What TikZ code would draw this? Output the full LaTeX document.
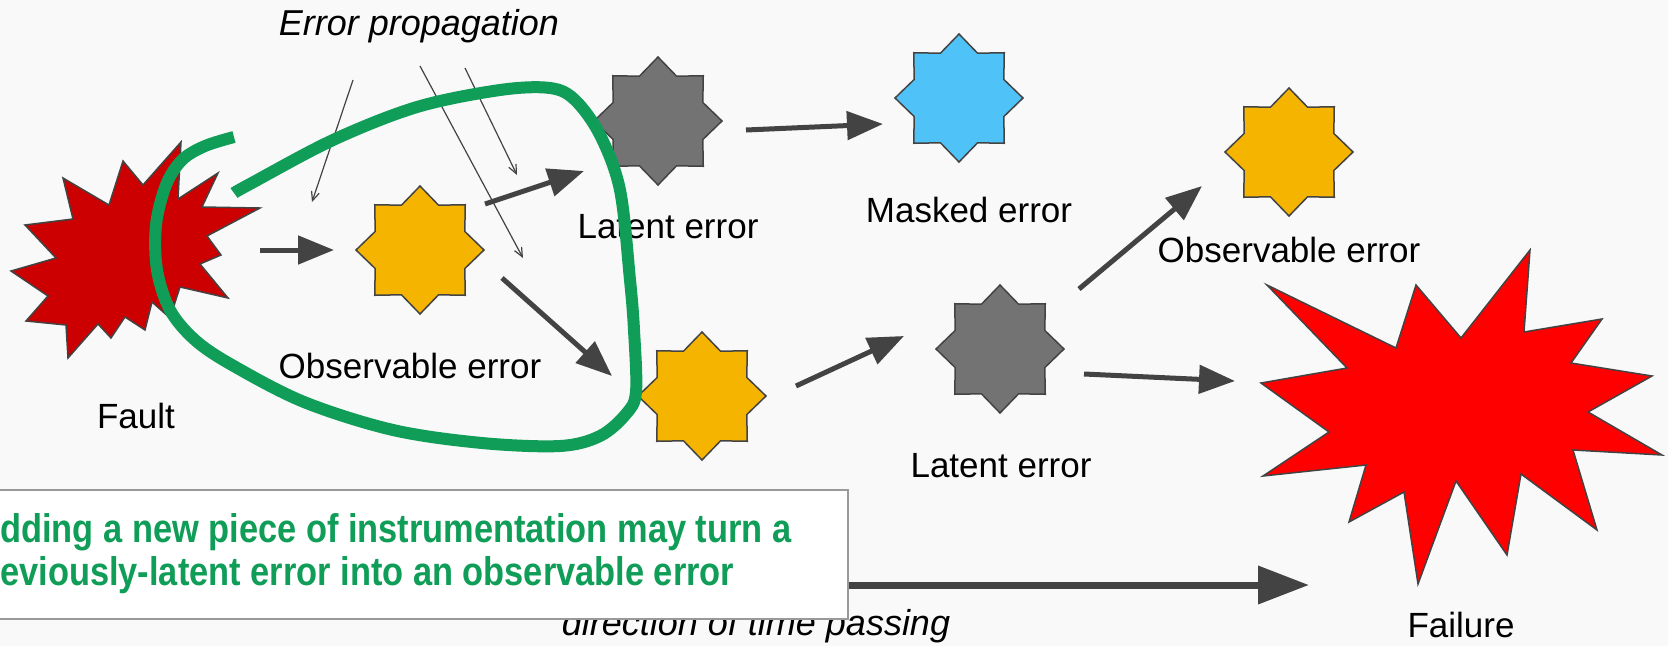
\documentclass[tikz,border=0pt]{standalone}
\usepackage{fontspec}
\setmainfont{Liberation Sans}
\newfontfamily\notefont[FakeStretch=0.86]{Liberation Sans}
\usetikzlibrary{shapes.geometric,arrows.meta}

\definecolor{ink}{HTML}{434343}
\definecolor{amber}{HTML}{F4B400}
\definecolor{slate}{HTML}{737373}
\definecolor{sky}{HTML}{4FC3F7}
\definecolor{faultred}{HTML}{CC0000}
\definecolor{failred}{HTML}{FF0000}
\definecolor{leaf}{HTML}{0F9D58}
\definecolor{paper}{HTML}{F9F9F9}
\definecolor{frame}{HTML}{999999}

\begin{document}
\begin{tikzpicture}[x=1pt,y=-1pt,
  lab/.style={font=\fontsize{35}{42}\selectfont, anchor=base, inner sep=0pt},
  ital/.style={font=\fontsize{36}{43}\selectfont\itshape, anchor=base, inner sep=0pt},
  burst8/.style={star, star points=8, star point ratio=1.32, minimum size=128pt,
                 inner sep=0pt, draw=ink, line width=1.5pt},
  blast/.style={draw=ink, line width=1.5pt, line join=miter},
  fat/.style={draw=ink, line width=5pt, -{Triangle[length=36pt,width=28pt]}},
  slim/.style={draw=ink, line width=1.2pt, -{Straight Barb[length=9pt,width=8pt]}},
  notebox/.style={draw=frame, fill=white, line width=1.5pt, inner sep=0pt},
  notetext/.style={font=\notefont\bfseries\fontsize{40}{48}\selectfont, text=leaf,
                   anchor=base west, inner sep=0pt}]

\useasboundingbox (0,0) rectangle (1668,646);
\clip (0,0) rectangle (1668,646);
\fill[paper] (0,0) rectangle (1668,646);

% ---- labels ----
\node[ital] (tprop) at (419,35) {Error propagation};
\node[lab] (tfault) at (136,428) {Fault};
\node[lab] (tobs1) at (410,378) {Observable error};
\node[lab] (tlat1) at (668,238) {Latent error};
\node[lab] (tmask) at (969,222) {Masked error};
\node[lab] (tobsR) at (1289,262) {Observable error};
\node[lab] (tlat2) at (1001,477) {Latent error};
\node[lab] (tfail) at (1461,637) {Failure};

% ---- fault and failure bursts ----
\draw[blast, fill=faultred] (181,142) -- (178,199) -- (218,173) -- (202,207) -- (260,208)
  -- (207,236) -- (221,255) -- (200,264) -- (228,298) -- (180,287) -- (170,318)
  -- (152,302) -- (145,330) -- (125,317) -- (111,338) -- (98,324) -- (68,358)
  -- (66,325) -- (26,321) -- (48,296) -- (11,271) -- (56,258) -- (25,225)
  -- (73,219) -- (63,178) -- (109,205) -- (123,161) -- (143,185) -- cycle;
\coordinate (fault) at (130,250);

\draw[blast, fill=failred] (1267,285) -- (1396,348) -- (1416,285) -- (1461,338)
  -- (1530,250) -- (1524,332) -- (1602,319) -- (1571,363) -- (1652,376)
  -- (1588,412) -- (1662,455) -- (1573,450) -- (1597,530) -- (1521,474)
  -- (1507,555) -- (1456,481) -- (1418,584) -- (1404,492) -- (1349,522)
  -- (1366,465) -- (1263,476) -- (1329,432) -- (1261,383) -- (1347,368) -- cycle;
\coordinate (failure) at (1460,420);

% ---- error stars ----
\node[burst8, fill=amber] (obs1) at (420,250) {};
\node[burst8, fill=slate] (lat1) at (658,121) {};
\node[burst8, fill=sky]   (masked) at (959,98) {};
\node[burst8, fill=amber] (obs2) at (702,396) {};
\node[burst8, fill=slate] (lat2) at (1000,349) {};
\node[burst8, fill=amber] (obsR) at (1289,152) {};

% ---- arrow end points ----
\coordinate (a1s) at (260,250);  \coordinate (a1e) at (334,250);
\coordinate (a2s) at (485,204);  \coordinate (a2e) at (584,171);
\coordinate (a3s) at (502,278);  \coordinate (a3e) at (612,376);
\coordinate (a4s) at (746,130);  \coordinate (a4e) at (883,124);
\coordinate (a5s) at (796,386);  \coordinate (a5e) at (904,336);
\coordinate (a6s) at (1079,289); \coordinate (a6e) at (1202,186);
\coordinate (a7s) at (1084,374); \coordinate (a7e) at (1235,381);
\coordinate (p1s) at (353,80);   \coordinate (p1e) at (312,202);
\coordinate (p2s) at (420,66);   \coordinate (p2e) at (523,258);
\coordinate (p3s) at (465,68);   \coordinate (p3e) at (517,175);
\coordinate (ts) at (700,585);   \coordinate (te) at (1309,585);

% ---- propagation arrows ----
\draw[fat] (a1s) -- (a1e);
\draw[fat] (a2s) -- (a2e);
\draw[fat] (a3s) -- (a3e);
\draw[fat] (a4s) -- (a4e);
\draw[fat] (a5s) -- (a5e);
\draw[fat] (a6s) -- (a6e);
\draw[fat] (a7s) -- (a7e);

\draw[slim] (p1s) -- (p1e);
\draw[slim] (p2s) -- (p2e);
\draw[slim] (p3s) -- (p3e);

% ---- instrumentation boundary ----
\draw[leaf, line width=12pt, line cap=butt, line join=round]
  plot[smooth, tension=0.55] coordinates {
  (234,137) (205,146) (182,160) (166,185) (156,225) (157,270) (170,310)
  (195,340) (232,365) (304,402) (393,430) (482,443) (560,446) (600,436)
  (626,414) (636,392) (634,330) (630,280) (620,190) (600,135) (575,100)
  (550,88) (500,90) (417,107) (333,140) (250,184) (234,193)};

% ---- time axis ----
\node[ital] (ttime) at (756,635) {direction of time passing};
\draw[draw=ink, line width=7pt, -{Triangle[length=51pt,width=37pt]}] (ts) -- (te);

% ---- note ----
\node[notebox, minimum width=867pt, minimum height=129pt, anchor=north west] (note) at (-20,489) {};
\node[notetext] (note1) at (0,542) {\llap{A}dding a new piece of instrumentation may turn a};
\node[notetext] (note2) at (0,585) {\llap{pr}eviously-latent error into an observable error};

\end{tikzpicture}
\end{document}
